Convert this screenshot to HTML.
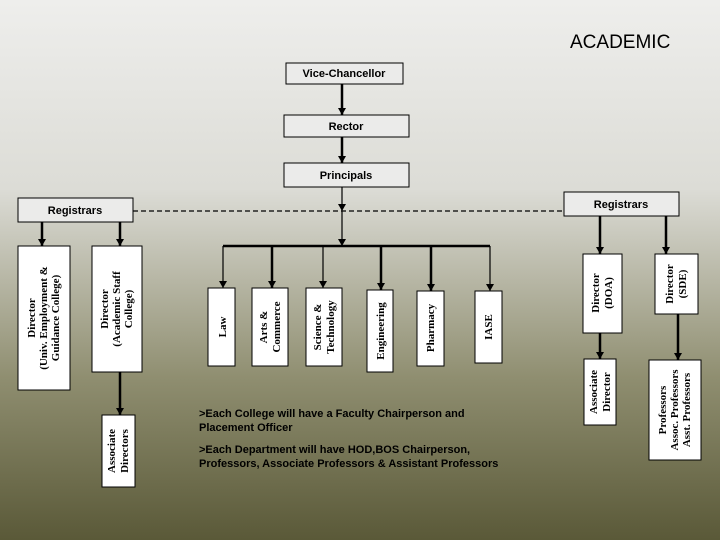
<!DOCTYPE html>
<html><head><style>
html,body{margin:0;padding:0;width:720px;height:540px;overflow:hidden}
svg{display:block}
.h{font-family:"Liberation Sans",sans-serif;font-weight:bold;font-size:11px;fill:#000}
.v{font-family:"Liberation Serif",serif;font-weight:bold;font-size:11px;fill:#000}
</style></head><body>
<svg width="720" height="540" viewBox="0 0 720 540">
<defs>
<linearGradient id="bg" x1="0" y1="0" x2="0" y2="1">
<stop offset="0" stop-color="#eeeeec"/>
<stop offset="0.35" stop-color="#dcdcd6"/>
<stop offset="0.7" stop-color="#8f8e70"/>
<stop offset="1" stop-color="#5a5938"/>
</linearGradient>
<marker id="a" markerWidth="8" markerHeight="8" refX="7" refY="4" orient="auto" markerUnits="userSpaceOnUse"><path d="M0,0 L7,4 L0,8 Z" fill="#000"/></marker>
</defs>
<rect width="720" height="540" fill="url(#bg)"/>
<text x="570" y="48" font-family="Liberation Sans,sans-serif" font-size="19" fill="#000">ACADEMIC</text>

<g stroke="#000" stroke-width="1" fill="#ebebea">
<rect x="286" y="63" width="117" height="21"/>
<rect x="284" y="115" width="125" height="22"/>
<rect x="284" y="163" width="125" height="24"/>
<rect x="18" y="198" width="115" height="24"/>
<rect x="564" y="192" width="115" height="24"/>
</g>
<text class="h" x="344" y="77" text-anchor="middle">Vice-Chancellor</text>
<text class="h" x="346" y="130" text-anchor="middle">Rector</text>
<text class="h" x="346" y="179" text-anchor="middle">Principals</text>
<text class="h" x="75" y="214" text-anchor="middle">Registrars</text>
<text class="h" x="621" y="208" text-anchor="middle">Registrars</text>

<g stroke="#000" stroke-width="2.5" fill="none">
<line x1="342" y1="84" x2="342" y2="115" marker-end="url(#a)"/>
<line x1="342" y1="137" x2="342" y2="163" marker-end="url(#a)"/>
<line x1="223" y1="246" x2="490" y2="246"/>
<line x1="42" y1="222" x2="42" y2="246" marker-end="url(#a)"/>
<line x1="120" y1="222" x2="120" y2="246" marker-end="url(#a)"/>
<line x1="120" y1="372" x2="120" y2="415" marker-end="url(#a)"/>
<line x1="272" y1="246" x2="272" y2="288" marker-end="url(#a)"/>
<line x1="381" y1="246" x2="381" y2="290" marker-end="url(#a)"/>
<line x1="431" y1="246" x2="431" y2="291" marker-end="url(#a)"/>
<line x1="600" y1="216" x2="600" y2="254" marker-end="url(#a)"/>
<line x1="666" y1="216" x2="666" y2="254" marker-end="url(#a)"/>
<line x1="600" y1="333" x2="600" y2="359" marker-end="url(#a)"/>
<line x1="678" y1="314" x2="678" y2="360" marker-end="url(#a)"/>
</g>
<g stroke="#000" stroke-width="1.2" fill="none">
<line x1="342" y1="187" x2="342" y2="211" marker-end="url(#a)"/>
<line x1="342" y1="211" x2="342" y2="246" marker-end="url(#a)"/>
<line x1="223" y1="246" x2="223" y2="288" marker-end="url(#a)"/>
<line x1="323" y1="246" x2="323" y2="288" marker-end="url(#a)"/>
<line x1="490" y1="246" x2="490" y2="291" marker-end="url(#a)"/>
<line x1="133" y1="211" x2="564" y2="211" stroke-dasharray="5,3"/>
</g>

<g stroke="#000" stroke-width="1" fill="#fff">
<rect x="18" y="246" width="52" height="144"/>
<rect x="92" y="246" width="50" height="126"/>
<rect x="102" y="415" width="33" height="72"/>
<rect x="208" y="288" width="27" height="78"/>
<rect x="252" y="288" width="36" height="78"/>
<rect x="306" y="288" width="36" height="78"/>
<rect x="367" y="290" width="26" height="82"/>
<rect x="417" y="291" width="27" height="75"/>
<rect x="475" y="291" width="27" height="72"/>
<rect x="583" y="254" width="39" height="79"/>
<rect x="655" y="254" width="43" height="60"/>
<rect x="584" y="359" width="32" height="66"/>
<rect x="649" y="360" width="52" height="100"/>
</g>

<g class="v">
<text transform="translate(44,318) rotate(-90)" text-anchor="middle"><tspan x="0" y="-9">Director</tspan><tspan x="0" y="3">(Univ. Employment &amp;</tspan><tspan x="0" y="15">Guidance College)</tspan></text>
<text transform="translate(117,309) rotate(-90)" text-anchor="middle"><tspan x="0" y="-9">Director</tspan><tspan x="0" y="3">(Academic Staff</tspan><tspan x="0" y="15">College)</tspan></text>
<text transform="translate(118,451) rotate(-90)" text-anchor="middle"><tspan x="0" y="-3">Associate</tspan><tspan x="0" y="10">Directors</tspan></text>
<text transform="translate(222,327) rotate(-90)" text-anchor="middle"><tspan x="0" y="4">Law</tspan></text>
<text transform="translate(270,327) rotate(-90)" text-anchor="middle"><tspan x="0" y="-3">Arts &amp;</tspan><tspan x="0" y="10">Commerce</tspan></text>
<text transform="translate(324,327) rotate(-90)" text-anchor="middle"><tspan x="0" y="-3">Science &amp;</tspan><tspan x="0" y="10">Technology</tspan></text>
<text transform="translate(380,331) rotate(-90)" text-anchor="middle"><tspan x="0" y="4">Engineering</tspan></text>
<text transform="translate(430,328) rotate(-90)" text-anchor="middle"><tspan x="0" y="4">Pharmacy</tspan></text>
<text transform="translate(488,327) rotate(-90)" text-anchor="middle"><tspan x="0" y="4">IASE</tspan></text>
<text transform="translate(602,293) rotate(-90)" text-anchor="middle"><tspan x="0" y="-3">Director</tspan><tspan x="0" y="10">(DOA)</tspan></text>
<text transform="translate(676,284) rotate(-90)" text-anchor="middle"><tspan x="0" y="-3">Director</tspan><tspan x="0" y="10">(SDE)</tspan></text>
<text transform="translate(600,392) rotate(-90)" text-anchor="middle"><tspan x="0" y="-3">Associate</tspan><tspan x="0" y="10">Director</tspan></text>
<text transform="translate(675,410) rotate(-90)" text-anchor="middle"><tspan x="0" y="-9">Professors</tspan><tspan x="0" y="3">Assoc. Professors</tspan><tspan x="0" y="15">Asst. Professors</tspan></text>
</g>

<g class="h">
<text x="199" y="417">&gt;Each College will have a Faculty Chairperson and</text>
<text x="199" y="431">Placement Officer</text>
<text x="199" y="453">&gt;Each Department will have HOD,BOS Chairperson,</text>
<text x="199" y="467">Professors, Associate Professors &amp; Assistant Professors</text>
</g>
</svg>
</body></html>
